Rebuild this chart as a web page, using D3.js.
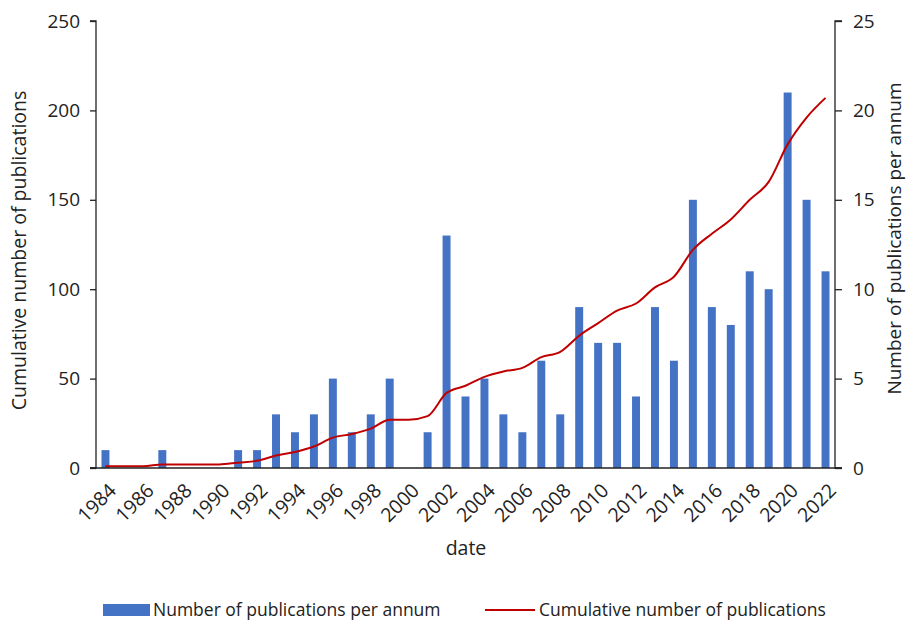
<!DOCTYPE html>
<html><head><meta charset="utf-8">
<script src="https://cdn.jsdelivr.net/npm/d3@7"></script>
<style>body{margin:0;background:#fff}svg{display:block}text{font-family:'Open Sans',sans-serif;fill:#222}</style>
</head><body><svg id="c" width="910" height="621"></svg>
<script>
const years = d3.range(1984, 2023);
const perAnnum = [1,0,0,1,0,0,0,1,1,3,2,3,5,2,3,5,0,2,13,4,5,3,2,6,3,9,7,7,4,9,6,15,9,8,11,10,21,15,11];
const cumulative = [1,1,1,2,2,2,2,3,4,7,9,12,17,19,22,27,27,29,42,46,51,54,56,62,65,74,81,88,92,101,107,122,131,139,150,160,181,196,207];
const leftTicks = [0,50,100,150,200,250];
const rightTicks = [0,5,10,15,20,25];
const xTickYears = d3.range(1984, 2023, 2);

const svg = d3.select("#c");
const L = 96, R = 835, T = 21, B = 468;
const x = d3.scaleBand().domain(years).range([L, R]).paddingInner(0.58).paddingOuter(0.29);
const yL = d3.scaleLinear().domain([0,250]).range([B, T]);
const yR = d3.scaleLinear().domain([0,25]).range([B, T]);

// bars
svg.append("g").selectAll("rect").data(years).join("rect")
  .attr("x", d => x(d)).attr("width", x.bandwidth())
  .attr("y", (d,i) => yR(perAnnum[i])).attr("height", (d,i) => B - yR(perAnnum[i]))
  .attr("fill", "#4472C4");

// line
const line = d3.line().x((d,i) => x(years[i]) + x.bandwidth()/2).y(d => yL(d)).curve(d3.curveMonotoneX);
svg.append("path").datum(cumulative).attr("d", line).attr("fill","none").attr("stroke","#C00000").attr("stroke-width",2);

// axes
const fs = 19;
const gl = svg.append("g").attr("transform", `translate(${L},0)`)
  .call(d3.axisLeft(yL).tickValues(leftTicks).tickSize(6).tickPadding(10));
const gr = svg.append("g").attr("transform", `translate(${R},0)`)
  .call(d3.axisRight(yR).tickValues(rightTicks).tickSize(7).tickPadding(11));
[gl, gr].forEach(g => {
  g.selectAll("path,line").attr("stroke","#222").attr("stroke-width",1.3);
  g.selectAll("text").attr("font-size", fs).attr("font-family","'Open Sans',sans-serif").attr("fill","#222");
});
gl.select(".domain").attr("d", `M-6,${T}H0V${B}H-6`);
gr.select(".domain").attr("d", `M7,${T}H0V${B}H7`);

// x axis baseline
svg.append("line").attr("x1", L-6).attr("x2", R+7).attr("y1", B).attr("y2", B).attr("stroke","#222").attr("stroke-width",1.3);

// x tick labels
svg.append("g").selectAll("text").data(xTickYears).join("text")
  .attr("transform", d => `translate(${x(d)+x.bandwidth()/2+7},${B+19}) rotate(-45)`)
  .attr("text-anchor","end").attr("dy","0.35em").attr("font-size", 19.5).text(d => d);

// axis titles
svg.append("text").attr("x", 466).attr("y", 555).attr("text-anchor","middle").attr("font-size",19.5).text("date");
svg.append("text").attr("transform", `translate(26,${(T+B)/2+6}) rotate(-90)`).attr("text-anchor","middle").attr("font-size",19.5).text("Cumulative number of publications");
svg.append("text").attr("transform", `translate(901,${(T+B)/2-6}) rotate(-90)`).attr("text-anchor","middle").attr("font-size",19).text("Number of publications per annum");

// legend
const lg = svg.append("g");
lg.append("rect").attr("x",103).attr("y",604).attr("width",47).attr("height",12).attr("fill","#4472C4");
lg.append("text").attr("x",153).attr("y",616).attr("font-size",17.5).text("Number of publications per annum");
lg.append("line").attr("x1",485).attr("x2",535).attr("y1",610).attr("y2",610).attr("stroke","#C00000").attr("stroke-width",2);
lg.append("text").attr("x",539).attr("y",616).attr("font-size",17.5).text("Cumulative number of publications");
</script></body></html>
